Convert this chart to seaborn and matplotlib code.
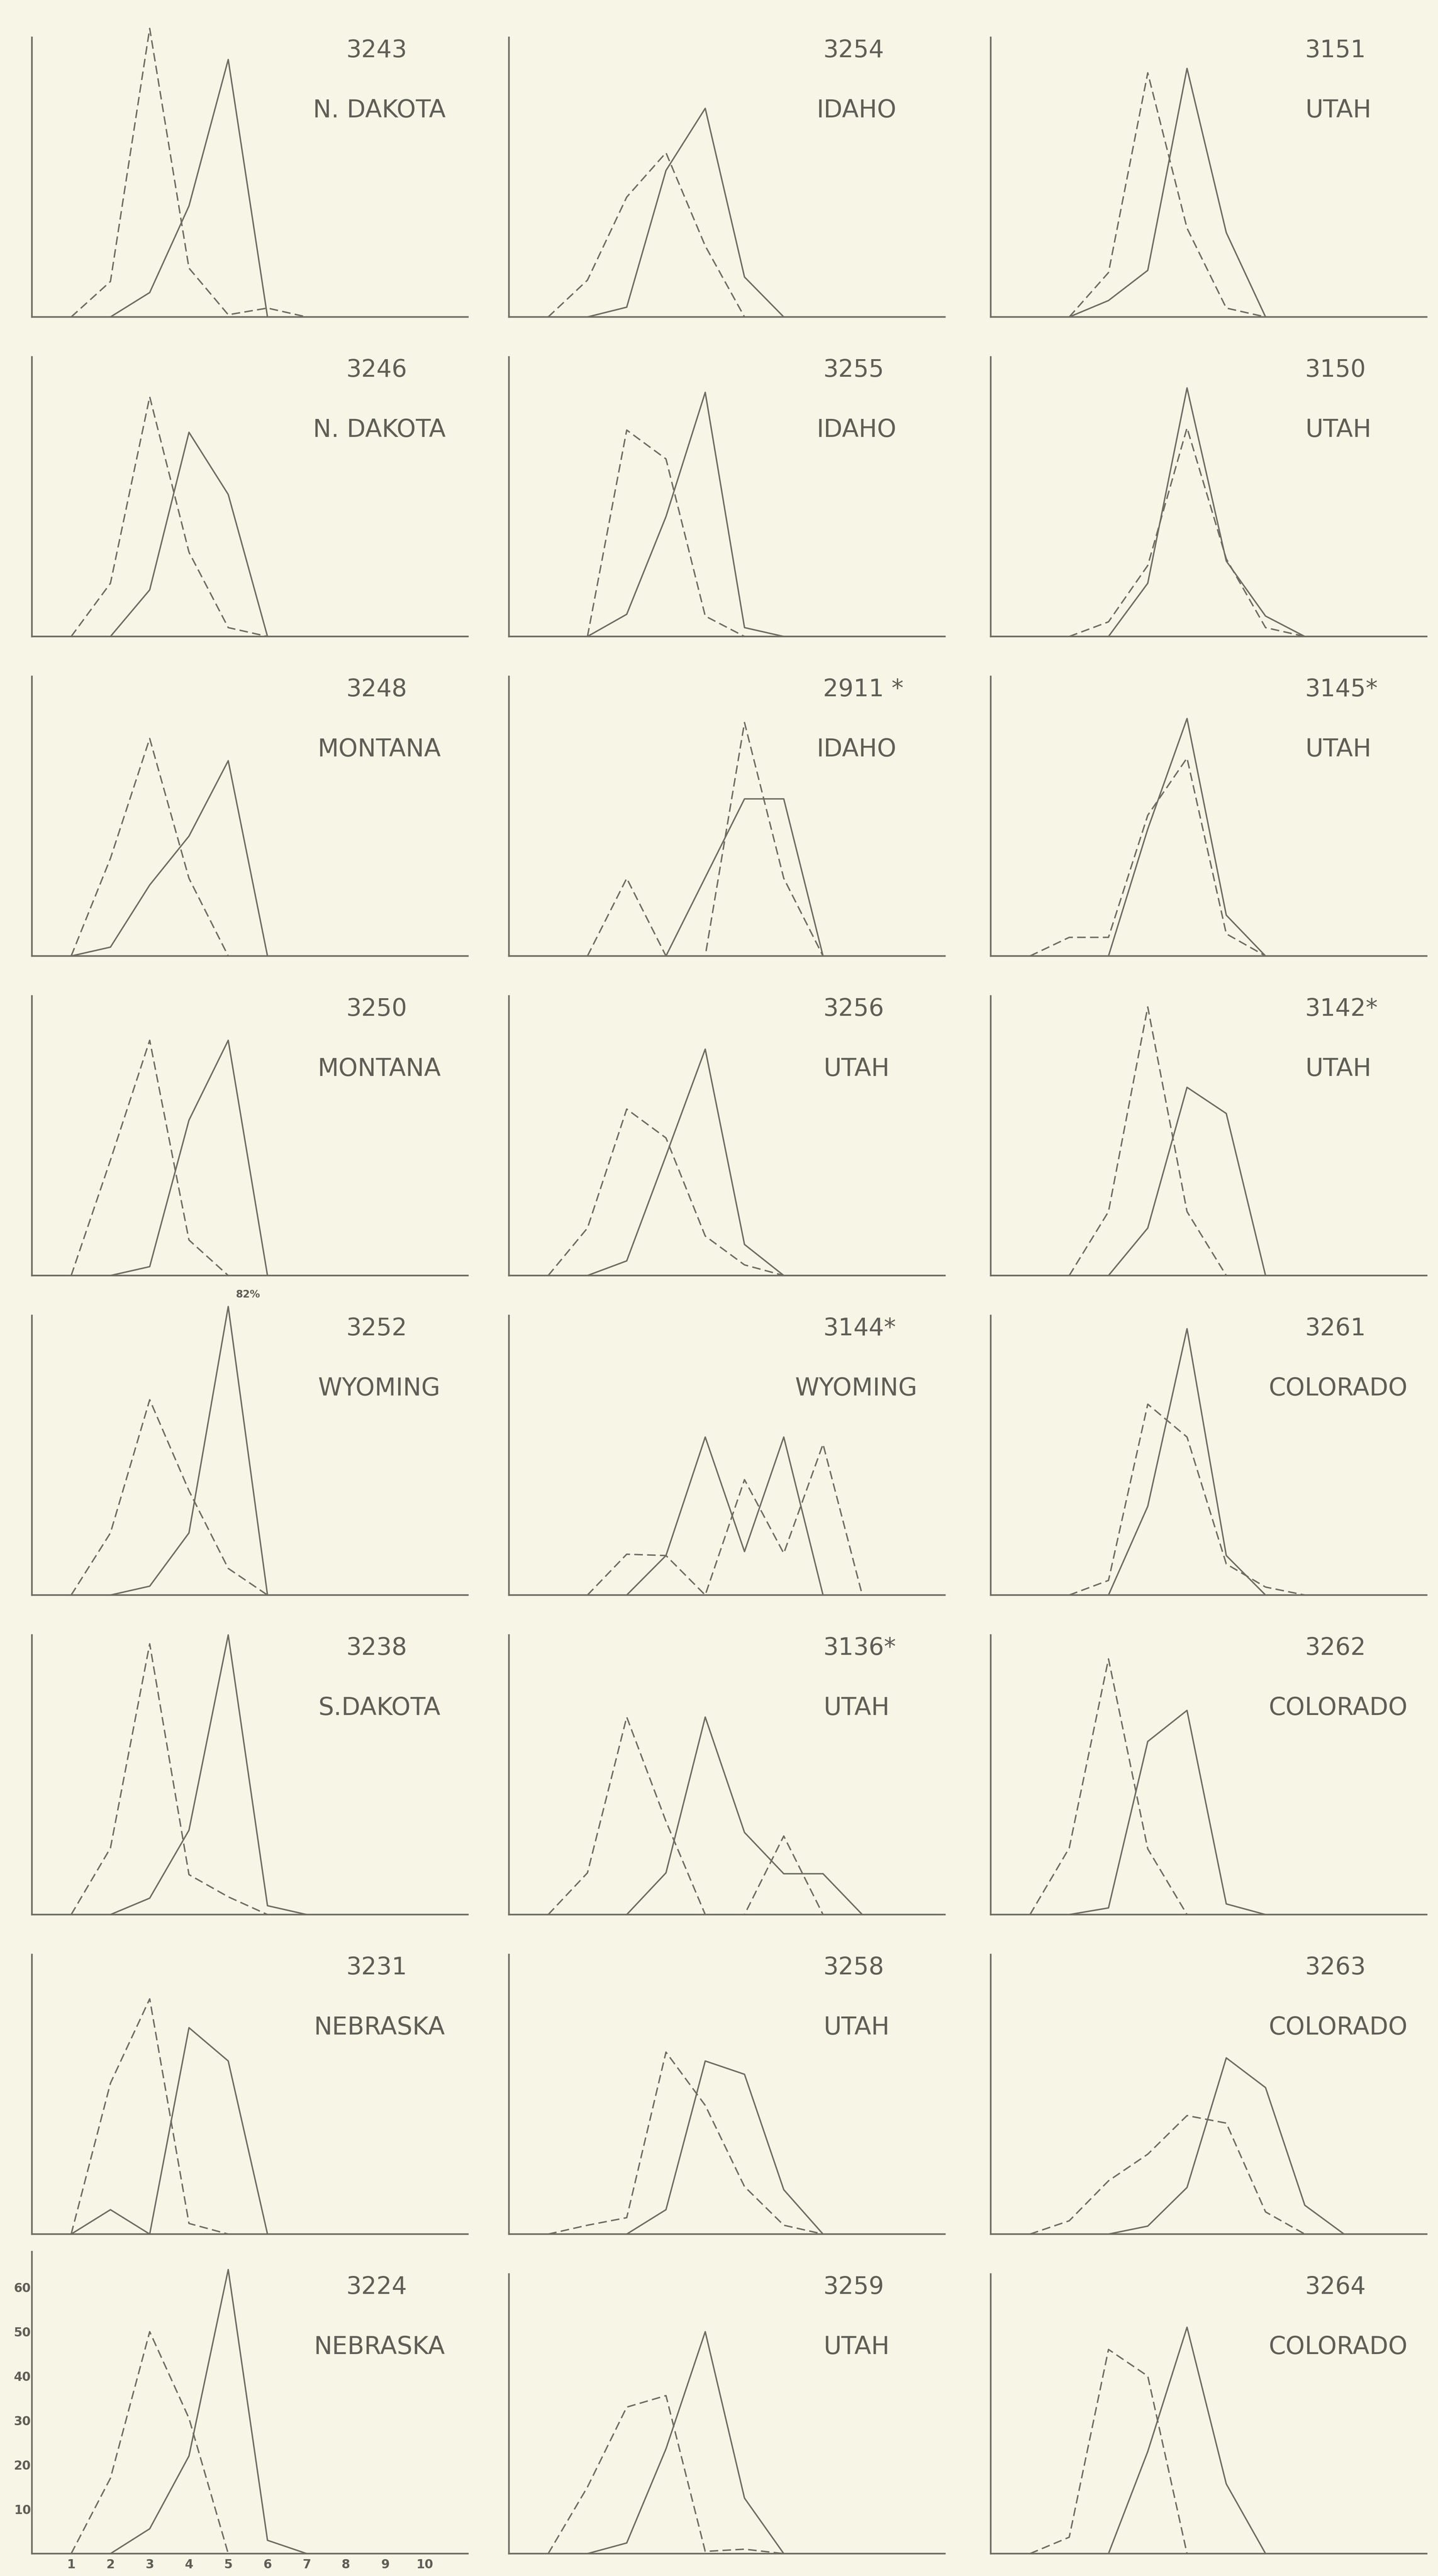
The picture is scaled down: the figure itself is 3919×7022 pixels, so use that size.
import numpy as np
import matplotlib
matplotlib.use("Agg")
import matplotlib.pyplot as plt
import seaborn as sns

# panels are listed column by column, top to bottom (8 rows x 3 columns)
sample_ids = ["3243", "3246", "3248", "3250", "3252", "3238", "3231", "3224",
              "3254", "3255", "2911 *", "3256", "3144*", "3136*", "3258", "3259",
              "3151", "3150", "3145*", "3142*", "3261", "3262", "3263", "3264"]
states = ["N. DAKOTA", "N. DAKOTA", "MONTANA", "MONTANA", "WYOMING", "S.DAKOTA", "NEBRASKA", "NEBRASKA",
          "IDAHO", "IDAHO", "IDAHO", "UTAH", "WYOMING", "UTAH", "UTAH", "UTAH",
          "UTAH", "UTAH", "UTAH", "UTAH", "COLORADO", "COLORADO", "COLORADO", "COLORADO"]

# dashed curve: first class on the x axis and the percent values from there
dashed_start = [1, 1, 1, 1, 1, 1, 1, 1,
                1, 2, 2, 1, 2, 1, 1, 1,
                2, 2, 1, 2, 2, 1, 1, 1]
dashed_vals = [
    [0, 8, 66, 11, 0.5, 2, 0],
    [0, 12, 54, 19, 2, 0],
    [0, 22, 49, 17.5, 0],
    [0, 26, 53, 8, 0],
    [0, 14, 44, 23.5, 6, 0],
    [0, 15, 61, 9, 4, 0],
    [0, 34, 53, 2.4, 0],
    [0, 17, 50, 30.5, 0],
    [0, 8.3, 27, 37, 16, 0],
    [0, 46.5, 40, 4.6, 0],
    [0, 17.5, 0, 0, 52.6, 17.5, 0],
    [0, 10.7, 37.5, 31, 8.9, 2.4, 0],
    [0, 9.2, 8.9, 0, 26, 9.4, 34, 0],
    [0, 9.4, 44.5, 21, 0, 0, 17.7, 0],
    [0, 2, 3.7, 41, 29, 10.7, 2, 0],
    [0, 15, 33, 35.6, 0.5, 1, 0],
    [0, 10, 55, 20, 2, 0],
    [0, 3.3, 16, 47, 17.5, 2, 0],
    [0, 4.2, 4.2, 31.7, 44.6, 5, 0],
    [0, 14.4, 60.5, 14.4, 0],
    [0, 3.3, 43, 35.6, 7, 1.8, 0],
    [0, 15, 57.6, 14.8, 0],
    [0, 3, 12, 18, 26.7, 25, 5, 0],
    [0, 3.7, 46, 40, 0],
]

# solid curve
solid_start = [2, 2, 1, 2, 2, 2, 1, 2,
               2, 2, 4, 2, 3, 3, 3, 2,
               2, 3, 3, 3, 3, 2, 3, 3]
solid_vals = [
    [0, 5.5, 25, 58, 0],
    [0, 10.5, 46, 32, 0],
    [0, 2, 16, 27, 44, 0],
    [0, 2, 35, 53, 0],
    [0, 2, 14, 82, 0],
    [0, 3.7, 19, 63, 2, 0],
    [0, 5.5, 0, 46.5, 39, 0],
    [0, 5.6, 22, 64, 3, 0],
    [0, 2.2, 33, 47, 9, 0],
    [0, 5, 27, 55, 2, 0],
    [0, 17.7, 35.4, 35.4, 0],
    [0, 3.3, 27, 51, 7, 0],
    [0, 8.9, 35.6, 9.8, 35.6, 0],
    [0, 9.4, 44.5, 18.5, 9.2, 9.2, 0],
    [0, 5.5, 39, 36, 10, 0],
    [0, 2.4, 23.6, 50, 12.5, 0],
    [0, 3.7, 10.5, 56, 19, 0],
    [0, 12, 56, 17, 4.6, 0],
    [0, 28.6, 53.5, 9.2, 0],
    [0, 10.7, 42.4, 36.5, 0],
    [0, 20, 60, 8.9, 0],
    [0, 1.5, 39, 46, 2.4, 0],
    [0, 1.8, 10.5, 39.7, 33, 6.5, 0],
    [0, 23, 51, 15.7, 0],
]

x_ticks = list(range(1, 11))
y_ticks = [10, 20, 30, 40, 50, 60]
peak_cap = 65   # peaks above this are drawn at the top with their value written

bg = "#f7f5e5"
lc = "#6c6c64"
tc = "#5e5e57"

sns.set_theme(style="white")
plt.rcParams["font.family"] = ["DejaVu Sans"]

W, H = 3919, 7022
fig = plt.figure(figsize=(W / 100, H / 100), dpi=100, facecolor=bg)

col_x0 = [87, 1387, 2700]   # pixel of x=0 in each column
base0, pitch = 864, 871     # pixel of first baseline, row spacing
px_x, px_y = 107, 12.1      # pixels per class / per percent
x_max, y_max = 11.1, 68

for i in range(len(sample_ids)):
    col, row = i // 8, i % 8
    base = base0 + pitch * row
    ax = fig.add_axes([col_x0[col] / W, (H - base) / H,
                       x_max * px_x / W, y_max * px_y / H])
    ax.set_facecolor(bg)

    xd = np.arange(dashed_start[i], dashed_start[i] + len(dashed_vals[i]))
    yd = np.array(dashed_vals[i], dtype=float)
    xs = np.arange(solid_start[i], solid_start[i] + len(solid_vals[i]))
    ys = np.array(solid_vals[i], dtype=float)

    sns.lineplot(x=xd, y=np.minimum(yd, peak_cap), ax=ax, color=lc, lw=2.8,
                 linestyle=(0, (6, 3)), clip_on=False)
    sns.lineplot(x=xs, y=np.minimum(ys, peak_cap), ax=ax, color=lc, lw=2.8,
                 clip_on=False)

    if ys.max() > peak_cap:
        ax.text(xs[ys.argmax()] + 0.5, peak_cap + 1.5, f"{ys.max():.0f}%",
                ha="center", va="bottom", fontsize=20, fontweight="bold", color=tc)

    ax.set_xlim(0, x_max)
    ax.set_ylim(0, y_max)
    sns.despine(ax=ax)
    for s in ["left", "bottom"]:
        ax.spines[s].set_color(lc)
        ax.spines[s].set_linewidth(3.2)
    last = (col == 0 and row == 7)
    ax.spines["left"].set_bounds(0, 68 if last else 63)

    if last:
        ax.set_xticks(x_ticks)
        ax.set_yticks(y_ticks)
        ax.tick_params(axis="both", length=0, labelsize=24, labelcolor=tc)
        ax.tick_params(axis="x", pad=10)
        ax.tick_params(axis="y", pad=2)
        for lab in ax.get_xticklabels() + ax.get_yticklabels():
            lab.set_fontweight("bold")
    else:
        ax.set_xticks([])
        ax.set_yticks([])
    ax.set_xlabel("")
    ax.set_ylabel("")

    ax.text(8.0, 60, sample_ids[i], ha="left", va="center", fontsize=47, color=tc)
    ax.text(8.85, 46.5, states[i], ha="center", va="center", fontsize=48, color=tc)

fig.savefig("out.png", dpi=100, facecolor=bg)
